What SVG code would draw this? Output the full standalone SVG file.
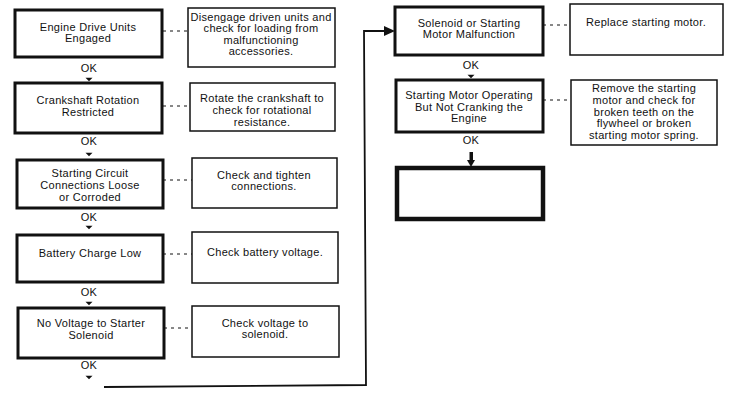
<svg xmlns="http://www.w3.org/2000/svg" width="732" height="409" viewBox="0 0 732 409">
<defs>
<style>
text{font-family:"Liberation Sans",Arial,sans-serif;font-size:11px;letter-spacing:0.3px;fill:#111;text-anchor:middle}
.pb{fill:#fff;stroke:#111;stroke-width:3}
.sb{fill:#fff;stroke:#111;stroke-width:1.5}
.eb{fill:#fff;stroke:#111;stroke-width:4.5}
.dot{stroke:#111;stroke-width:1;stroke-dasharray:3,4;fill:none}
.ln{stroke:#111;stroke-width:1.8;fill:none}
.ah{fill:#111}
</style>
<path id="sa" d="M-3.5,-1.2 L3.5,-1.2 L0,2.3 Z"/>
</defs>
<rect width="732" height="409" fill="#fff"/>
<g id="connectors">
<line class="dot" x1="163" y1="31" x2="188" y2="31"/>
<line class="dot" x1="163" y1="106" x2="190" y2="106"/>
<line class="dot" x1="163" y1="180" x2="192" y2="180"/>
<line class="dot" x1="163" y1="254" x2="192" y2="254"/>
<line class="dot" x1="164" y1="328" x2="192" y2="328"/>
<line class="dot" x1="543" y1="25" x2="570" y2="25"/>
<line class="dot" x1="543" y1="100" x2="571" y2="100"/>
<text x="89" y="72">OK</text>
<use href="#sa" class="ah" x="89" y="79"/>
<text x="89" y="145">OK</text>
<use href="#sa" class="ah" x="89" y="154"/>
<text x="89" y="221">OK</text>
<use href="#sa" class="ah" x="89" y="227"/>
<text x="89" y="296">OK</text>
<use href="#sa" class="ah" x="89" y="303"/>
<text x="89" y="369">OK</text>
<use href="#sa" class="ah" x="89" y="377"/>
<text x="471" y="69">OK</text>
<use href="#sa" class="ah" x="471" y="76"/>
<text x="471" y="144">OK</text>
<rect x="469.5" y="152" width="3.5" height="9" class="ah"/>
<path d="M467,160 L475,160 L471,167 Z" class="ah"/>
<polyline class="ln" points="104,387 366,385 364,31 386,31"/>
<path d="M384,26 L395,31 L384,36 Z" class="ah"/>
</g>
<g id="n1"><rect class="pb" x="15" y="10" width="147" height="47"/><text x="88" y="31">Engine Drive Units</text><text x="88" y="42">Engaged</text></g>
<g id="r1"><rect class="sb" x="188" y="8" width="147" height="59"/><text x="261" y="21">Disengage driven units and</text><text x="261" y="32">check for loading from</text><text x="261" y="44">malfunctioning</text><text x="261" y="55">accessories.</text></g>
<g id="n2"><rect class="pb" x="15" y="83" width="147" height="50"/><text x="88" y="104">Crankshaft Rotation</text><text x="88" y="116">Restricted</text></g>
<g id="r2"><rect class="sb" x="190" y="83" width="145" height="48"/><text x="262" y="102">Rotate the crankshaft to</text><text x="262" y="114">check for rotational</text><text x="262" y="126">resistance.</text></g>
<g id="n3"><rect class="pb" x="17" y="160" width="146" height="48"/><text x="90" y="177">Starting Circuit</text><text x="90" y="189">Connections Loose</text><text x="90" y="201">or Corroded</text></g>
<g id="r3"><rect class="sb" x="192" y="158" width="145" height="50"/><text x="264" y="179">Check and tighten</text><text x="264" y="190">connections.</text></g>
<g id="n4"><rect class="pb" x="17" y="235" width="146" height="47"/><text x="90" y="257">Battery Charge Low</text></g>
<g id="r4"><rect class="sb" x="192" y="232" width="146" height="51"/><text x="265" y="256">Check battery voltage.</text></g>
<g id="n5"><rect class="pb" x="18" y="308" width="146" height="50"/><text x="91" y="327">No Voltage to Starter</text><text x="91" y="339">Solenoid</text></g>
<g id="r5"><rect class="sb" x="192" y="306" width="147" height="51"/><text x="265" y="327">Check voltage to</text><text x="265" y="338">solenoid.</text></g>
<g id="n6"><rect class="pb" x="395" y="7" width="148" height="48"/><text x="469" y="27">Solenoid or Starting</text><text x="469" y="38">Motor Malfunction</text></g>
<g id="r6"><rect class="sb" x="570" y="4" width="153" height="51"/><text x="646" y="26">Replace starting motor.</text></g>
<g id="n7"><rect class="pb" x="396" y="80" width="147" height="52"/><text x="469" y="99">Starting Motor Operating</text><text x="469" y="111">But Not Cranking the</text><text x="469" y="122">Engine</text></g>
<g id="r7"><rect class="sb" x="571" y="80" width="146" height="65"/><text x="644" y="92">Remove the starting</text><text x="644" y="104">motor and check for</text><text x="644" y="116">broken teeth on the</text><text x="644" y="127">flywheel or broken</text><text x="644" y="139">starting motor spring.</text></g>
<g id="n8"><rect class="eb" x="397" y="168" width="146" height="51"/></g>
</svg>
